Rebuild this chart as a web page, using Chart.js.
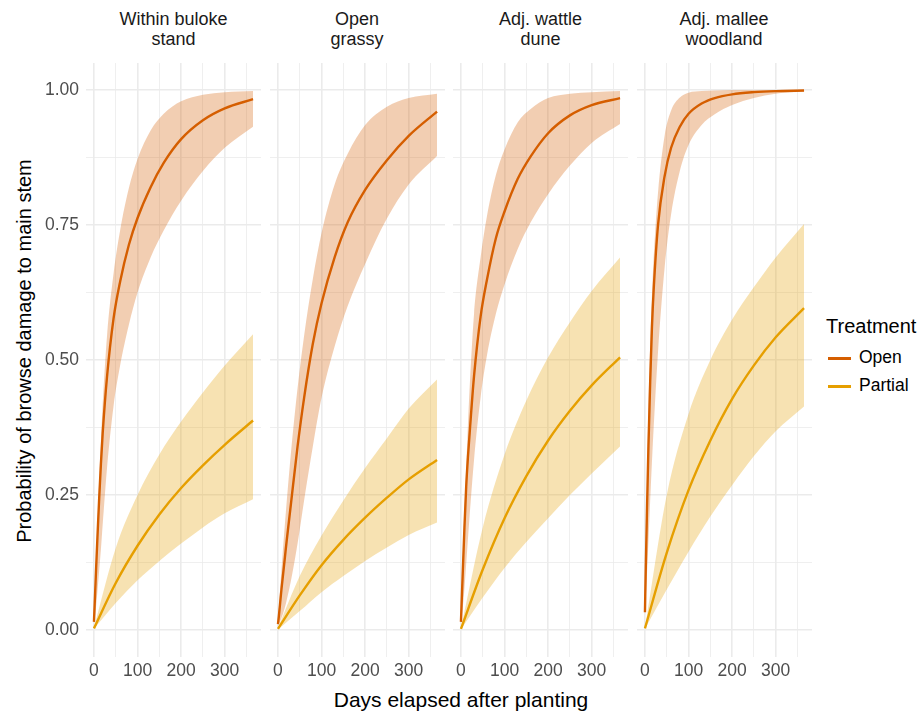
<!DOCTYPE html>
<html>
<head>
<meta charset="utf-8">
<script src="https://cdn.jsdelivr.net/npm/chart.js@4.4.0/dist/chart.umd.min.js"></script>
<style>
  body { margin: 0; background: #fff; font-family: "Liberation Sans", Arial, sans-serif; }
  #wrap { position: relative; width: 922px; height: 712px; overflow: hidden; }
  canvas { position: absolute; }
  .strip { position: absolute; width: 175px; text-align: center; font-size: 18px; line-height: 20px; color: #1a1a1a; }
  .title { position: absolute; font-size: 20px; color: #000; white-space: nowrap; }
  .key { position: absolute; width: 23px; height: 2.5px; }
  .lab { position: absolute; font-size: 17.5px; color: #000; }
</style>
</head>
<body>
<div id="wrap">
  <div class="title" style="left:461px; top:700px; font-size:21px; transform:translate(-50%,-50%);">Days elapsed after planting</div>
  <div class="title" style="left:24px; top:351px; transform:translate(-50%,-50%) rotate(-90deg);">Probability of browse damage to main stem</div>
  <div class="title" style="left:826px; top:315px;">Treatment</div>
  <div class="key" style="left:828px; top:357px; background:#D55E00;"></div>
  <div class="lab" style="left:859px; top:347px;">Open</div>
  <div class="key" style="left:828px; top:385px; background:#E69F00;"></div>
  <div class="lab" style="left:859px; top:375px;">Partial</div>
</div>
<script>
// facet titles
const panelTitles = [['Within buloke', 'stand'], ['Open', 'grassy'], ['Adj. wattle', 'dune'], ['Adj. mallee', 'woodland']]

// axis ticks
const xMajor = [0, 100, 200, 300]
const xMinor = [50, 150, 250, 350]
const yMajor = [0, 0.25, 0.5, 0.75, 1]
const yMinor = [0.125, 0.375, 0.625, 0.875]

// Open treatment (one row per panel)
const openDays = [0, 2, 5, 8, 12, 16, 20, 30, 45, 60, 80, 100, 130, 160, 200, 250, 300, 365]
const openMid = [
  [.015, .055, .115, .172, .244, .308, .364, .469, .577, .645, .713, .763, .82, .865, .909, .944, .966, .983],
  [.011, .025, .05, .075, .105, .135, .165, .235, .34, .43, .53, .605, .69, .755, .815, .87, .915, .96],
  [.015, .06, .125, .19, .265, .32, .365, .47, .58, .65, .725, .775, .835, .877, .92, .953, .972, .985],
  [.033, .12, .235, .34, .46, .56, .63, .75, .84, .893, .932, .956, .975, .985, .992, .996, .998, .999]
]
const openLo = [
  [.01, .022, .045, .072, .11, .15, .195, .3, .415, .49, .565, .625, .69, .74, .795, .85, .893, .932],
  [.008, .011, .016, .022, .031, .042, .055, .092, .16, .24, .34, .43, .525, .6, .678, .762, .825, .878],
  [.01, .024, .048, .077, .122, .168, .213, .315, .43, .51, .585, .64, .705, .755, .807, .86, .902, .937],
  [.025, .06, .11, .165, .24, .31, .375, .515, .67, .77, .85, .898, .935, .955, .972, .985, .993, .997]
]
const openHi = [
  [.02, .066, .132, .196, .276, .35, .418, .545, .66, .74, .818, .872, .925, .956, .979, .991, .996, .998],
  [.015, .04, .076, .111, .155, .197, .237, .33, .448, .545, .65, .735, .825, .882, .935, .969, .985, .993],
  [.02, .07, .15, .22, .3, .38, .45, .585, .69, .768, .842, .89, .94, .965, .985, .993, .996, .998],
  [.04, .14, .28, .41, .53, .62, .69, .81, .915, .962, .986, .995, .998, .999, 1, 1, 1, 1]
]

// Partial treatment
const partDays = [0, 50, 100, 150, 200, 250, 300, 365]
const partMid = [
  [.003, .087, .156, .214, .263, .305, .343, .388],
  [.002, .064, .12, .167, .208, .245, .279, .315],
  [.002, .112, .207, .285, .351, .406, .453, .505],
  [.003, .143, .259, .351, .428, .49, .542, .596]
]
const partLo = [
  [.002, .05, .092, .128, .16, .19, .216, .242],
  [.001, .035, .07, .1, .128, .153, .176, .199],
  [.001, .06, .115, .163, .207, .25, .29, .34],
  [.002, .075, .145, .21, .268, .322, .368, .414]
]
const partHi = [
  [.005, .152, .25, .325, .386, .44, .49, .548],
  [.004, .1, .175, .24, .3, .355, .41, .464],
  [.004, .19, .325, .425, .505, .57, .628, .69],
  [.005, .25, .4, .5, .575, .635, .69, .752]
]

const OPEN = '#D55E00'
const PARTIAL = '#E69F00'
const FONT = '"Liberation Sans", Arial, sans-serif'

const panelLeft = [86, 269.5, 453, 636.5]
const panelW = 175
const plotTop = 63
const plotH = 594
const xAxisH = 40

function pts(days, vals) {
    return days.map((d, i) => ({x: d, y: vals[i]}))
}

function gridWidth(major) {
    return ctx => major.includes(ctx.tick && ctx.tick.value) ? 1.6 : 0.8
}

/** no extra room for overhanging tick labels */
function noPad(s) {
    s.paddingTop = 0
    s.paddingBottom = 0
    s.paddingLeft = 0
    s.paddingRight = 0
}

const wrap = document.getElementById('wrap')

panelTitles.forEach((lines, p) => {
    const strip = document.createElement('div')
    strip.className = 'strip'
    strip.style.left = panelLeft[p] + 'px'
    strip.style.top = '9px'
    strip.innerHTML = lines.join('<br>')
    wrap.appendChild(strip)

    const yw = p === 0 ? 86 : 0
    const canvas = document.createElement('canvas')
    canvas.width = panelW + yw
    canvas.height = plotH + xAxisH
    canvas.style.left = (panelLeft[p] - yw) + 'px'
    canvas.style.top = plotTop + 'px'
    wrap.appendChild(canvas)

    const line = (data, color) => ({
        data: data, borderColor: color, borderWidth: 2.4, pointRadius: 0,
        fill: false, cubicInterpolationMode: 'monotone', order: 0
    })
    const band = (data, color, fill) => ({
        data: data, borderWidth: 0, pointRadius: 0, backgroundColor: color,
        fill: fill, cubicInterpolationMode: 'monotone', order: 1
    })

    new Chart(canvas.getContext('2d'), {
        type: 'line',
        data: {
            datasets: [
                band(pts(openDays, openLo[p]), 'rgba(0,0,0,0)', false),
                band(pts(openDays, openHi[p]), 'rgba(213,94,0,0.3)', '-1'),
                band(pts(partDays, partLo[p]), 'rgba(0,0,0,0)', false),
                band(pts(partDays, partHi[p]), 'rgba(230,159,0,0.3)', '-1'),
                line(pts(openDays, openMid[p]), OPEN),
                line(pts(partDays, partMid[p]), PARTIAL)
            ]
        },
        options: {
            responsive: false,
            animation: false,
            layout: {padding: 0},
            plugins: {legend: {display: false}, tooltip: {enabled: false}},
            scales: {
                x: {
                    type: 'linear', min: -18.25, max: 383.25,
                    border: {display: false},
                    grid: {color: '#EBEBEB', lineWidth: gridWidth(xMajor), drawTicks: false},
                    afterBuildTicks: s => { s.ticks = xMajor.concat(xMinor).sort((a, b) => a - b).map(v => ({value: v})) },
                    afterFit: s => { s.height = xAxisH; noPad(s) },
                    ticks: {
                        autoSkip: false, maxRotation: 0, padding: 4, color: '#4D4D4D',
                        font: {family: FONT, size: 17.5},
                        callback: v => xMajor.includes(v) ? String(v) : ''
                    }
                },
                y: {
                    type: 'linear', min: -0.05, max: 1.05,
                    border: {display: false},
                    grid: {color: '#EBEBEB', lineWidth: gridWidth(yMajor), drawTicks: false},
                    afterBuildTicks: s => { s.ticks = yMajor.concat(yMinor).sort((a, b) => a - b).map(v => ({value: v})) },
                    afterFit: s => { s.width = yw; noPad(s) },
                    ticks: {
                        display: p === 0, autoSkip: false, padding: 7, color: '#4D4D4D',
                        font: {family: FONT, size: 17.5},
                        callback: v => yMajor.includes(v) ? v.toFixed(2) : ''
                    }
                }
            }
        }
    })
})
</script>
</body>
</html>
